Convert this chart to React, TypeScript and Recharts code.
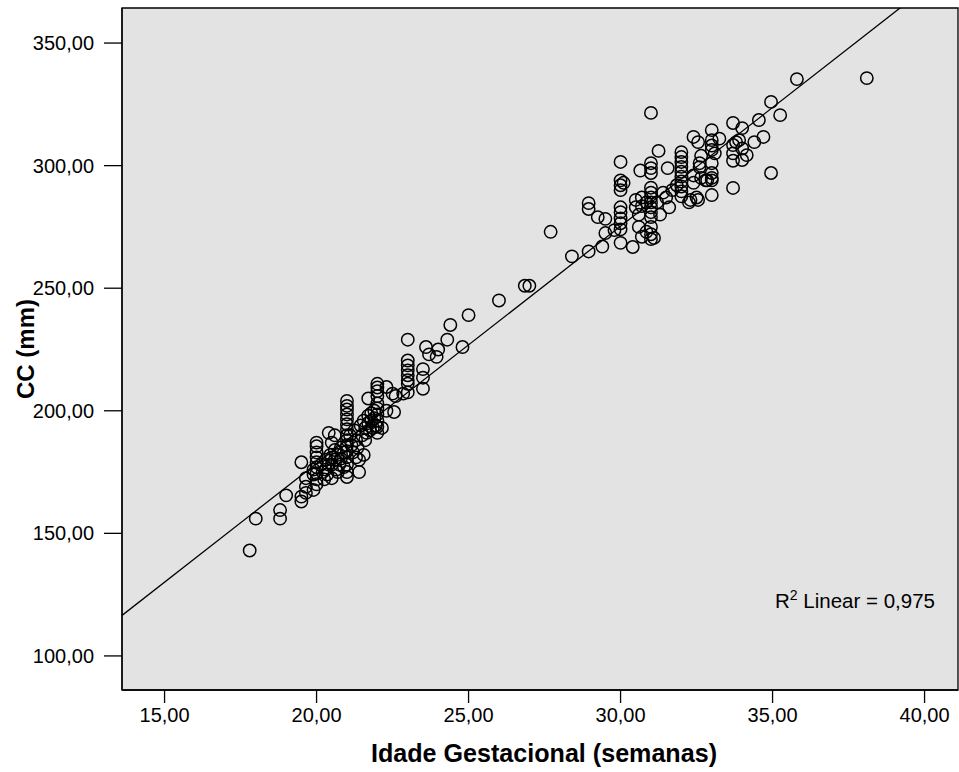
import React from "react";
import {
  CartesianGrid,
  Label,
  ReferenceArea,
  ReferenceLine,
  Scatter,
  ScatterChart,
  XAxis,
  YAxis,
} from "recharts";

// [idade gestacional (semanas), CC (mm)], grouped by week
const semanas17a19 = [
  [17.8, 143], [18.0, 156], [18.8, 156], [18.8, 159.5], [19.0, 165.5], [19.5, 163],
  [19.5, 165], [19.5, 179], [19.65, 166.5], [19.65, 169], [19.65, 172.5], [19.9, 167.7],
  [19.9, 174], [19.9, 176],
];
const semanas20 = [
  [20, 187], [20, 185.5], [20, 183], [20, 181], [20, 179], [20, 177], [20, 174.5], [20, 172],
  [20, 170], [20.15, 178], [20.2, 175], [20.25, 172], [20.3, 180], [20.3, 176], [20.35, 174],
  [20.4, 191], [20.45, 182], [20.5, 187], [20.5, 178], [20.5, 172.5], [20.6, 190], [20.6, 184],
  [20.6, 180], [20.65, 176], [20.7, 182], [20.75, 178], [20.8, 185], [20.8, 180.5], [20.9, 183],
  [20.9, 177], [20.5, 181], [20.4, 178], [20.7, 175],
];
const semanas21 = [
  [21, 204], [21, 202], [21, 200.5], [21, 198.5], [21, 196.5], [21, 194.5], [21, 192.5],
  [21, 190], [21, 188], [21, 186], [21, 183.5], [21, 181], [21, 178], [21, 175], [21, 173],
  [21.1, 190], [21.15, 186], [21.2, 183], [21.25, 192], [21.3, 188], [21.35, 185], [21.4, 180],
  [21.4, 175], [21.45, 194], [21.5, 190], [21.55, 196], [21.6, 193], [21.6, 188], [21.65, 191],
  [21.7, 205], [21.7, 198], [21.7, 195], [21.75, 192], [21.8, 199], [21.8, 196], [21.85, 193],
  [21.9, 200], [21.9, 197], [21.95, 194], [21.55, 182], [21.3, 181],
];
const semanas22 = [
  [22, 211], [22, 209.5], [22, 208], [22, 206], [22, 203], [22, 201], [22, 198.5], [22, 196],
  [22, 193.5], [22, 191], [22.15, 193], [22.3, 209.7], [22.3, 200], [22.5, 207], [22.55, 199.5],
  [22.6, 206], [22.85, 207],
];
const semanas23a28 = [
  [23, 229], [23, 220.5], [23, 218.5], [23, 216.5], [23, 214.5], [23, 212.5], [23, 211],
  [23, 207.5], [23.5, 217], [23.5, 213.5], [23.5, 209], [23.6, 226], [23.7, 223], [23.95, 222],
  [24.0, 225], [24.3, 229], [24.4, 235], [24.8, 226], [25.0, 239], [26.0, 245], [26.85, 251],
  [27.0, 251], [27.7, 273], [28.4, 263],
];
const semanas29a30 = [
  [28.95, 265], [28.95, 282.3], [28.95, 284.7], [29.25, 279], [29.4, 267], [29.5, 278.3],
  [29.5, 272.5], [29.8, 273.7], [30, 301.5], [30, 294], [30, 292], [30, 290], [30, 283],
  [30, 281], [30, 278.5], [30, 276.5], [30, 274], [30, 268.5], [30.1, 293], [30.4, 266.8],
  [30.5, 286], [30.5, 283], [30.6, 280], [30.6, 275], [30.65, 298], [30.7, 287], [30.7, 283.5],
  [30.7, 271], [30.85, 273], [30.85, 285],
];
const semanas31 = [
  [31, 321.5], [31, 301], [31, 299], [31, 297], [31, 291], [31, 289], [31, 287], [31, 285],
  [31, 283], [31, 281], [31, 279], [31, 275], [31, 272], [31, 270], [31.1, 270.5], [31.2, 285],
  [31.25, 306], [31.4, 289], [31.5, 287], [31.55, 299], [31.6, 283], [31.7, 290], [31.85, 292],
  [31.3, 280],
];
const semanas32 = [
  [32, 305.5], [32, 303.5], [32, 301.5], [32, 299.5], [32, 297.5], [32, 295.5], [32, 293.5],
  [32, 291.5], [32, 289.5], [32, 287.5], [32.25, 285], [32.3, 286], [32.4, 311.7], [32.4, 296],
  [32.4, 293], [32.5, 287], [32.55, 309.6], [32.55, 286], [32.6, 301], [32.6, 299.4],
  [32.65, 304], [32.65, 295], [32.8, 294], [32.85, 294],
];
const semanas33a38 = [
  [33, 314.5], [33, 310.4], [33, 308.2], [33, 306.4], [33, 301], [33, 297], [33, 295], [33, 294],
  [33, 288], [33.1, 305], [33.25, 311], [33.7, 317.4], [33.7, 308.4], [33.7, 305], [33.7, 302],
  [33.7, 290.9], [33.8, 309.6], [33.9, 310.4], [34, 315.3], [34, 307], [34, 302.3],
  [34.15, 304.3], [34.4, 309.6], [34.55, 318.6], [34.7, 311.7], [34.95, 326], [34.95, 297],
  [35.25, 320.6], [35.8, 335.3], [38.1, 335.7],
];

const xTicks = [15, 20, 25, 30, 35, 40];
const yTicks = [100, 150, 200, 250, 300, 350];
const X_DOMAIN = [13.6, 41.1];
const Y_DOMAIN = [86.1, 364.3];
const R2_TEXT = "0,975";

const points = [
  ...semanas17a19, ...semanas20, ...semanas21, ...semanas22, ...semanas23a28,
  ...semanas29a30, ...semanas31, ...semanas32, ...semanas33a38,
].map(([ig, cc]) => ({ ig, cc }));

// least squares fit, like SPSS "Fit line at total"
const n = points.length;
const mx = points.reduce((s, p) => s + p.ig, 0) / n;
const my = points.reduce((s, p) => s + p.cc, 0) / n;
const sxy = points.reduce((s, p) => s + (p.ig - mx) * (p.cc - my), 0);
const sxx = points.reduce((s, p) => s + (p.ig - mx) ** 2, 0);
const slope = sxy / sxx;
const intercept = my - slope * mx;
const fit = (x: number) => intercept + slope * x;

const fmt = (v: number) => v.toFixed(2).replace(".", ",");
const FONT = "'Liberation Sans', Arial, sans-serif";

const Ring = (props: any) => (
  <circle cx={props.cx} cy={props.cy} r={6.2} fill="none" stroke="#000" strokeWidth={1.5} />
);

export default function App() {
  return (
    <div style={{ position: "absolute", left: 0, top: 0, width: 959, height: 772 }}>
      <ScatterChart width={959} height={772} margin={{ top: 8, right: 1, bottom: 0, left: 0 }}>
        <CartesianGrid fill="#e3e3e3" horizontal={false} vertical={false} />
        <XAxis
          type="number"
          dataKey="ig"
          domain={X_DOMAIN}
          ticks={xTicks}
          allowDataOverflow
          tickFormatter={fmt}
          height={82}
          tickSize={13}
          tickMargin={5}
          axisLine={{ stroke: "#000", strokeWidth: 1.3 }}
          tickLine={{ stroke: "#000", strokeWidth: 1.3 }}
          tick={{ fill: "#000", fontSize: 20, fontFamily: "'Liberation Sans Narrow', " + FONT }}
        >
          <Label
            content={() => (
              <text x={544} y={753} textAnchor="middle" dominantBaseline="central"
                fontFamily={FONT} fontWeight="bold" fontSize={25} fill="#000"
                textLength={346} lengthAdjust="spacingAndGlyphs">
                Idade Gestacional (semanas)
              </text>
            )}
          />
        </XAxis>
        <YAxis
          type="number"
          dataKey="cc"
          domain={Y_DOMAIN}
          ticks={yTicks}
          allowDataOverflow
          tickFormatter={fmt}
          width={122}
          tickSize={18}
          tickMargin={10}
          axisLine={{ stroke: "#000", strokeWidth: 1.3 }}
          tickLine={{ stroke: "#000", strokeWidth: 1.3 }}
          tick={{ fill: "#000", fontSize: 20, fontFamily: FONT }}
        >
          <Label
            content={() => (
              <text x={25} y={349} transform="rotate(-90 25 349)" textAnchor="middle"
                dominantBaseline="central" fontFamily={FONT} fontWeight="bold" fontSize={24} fill="#000">
                CC (mm)
              </text>
            )}
          />
        </YAxis>
        <ReferenceArea
          x1={X_DOMAIN[0]} x2={X_DOMAIN[1]} y1={Y_DOMAIN[0]} y2={Y_DOMAIN[1]}
          fill="none" stroke="#000" strokeWidth={1.3} ifOverflow="visible"
        />
        <ReferenceLine
          segment={[
            { x: X_DOMAIN[0], y: fit(X_DOMAIN[0]) },
            { x: X_DOMAIN[1], y: fit(X_DOMAIN[1]) },
          ]}
          stroke="#000"
          strokeWidth={1.3}
          ifOverflow="hidden"
        />
        <Scatter data={points} shape={Ring} isAnimationActive={false} />
      </ScatterChart>
      <div
        style={{
          position: "absolute", left: 775, top: 587, fontFamily: FONT, fontSize: 20.5,
          color: "#000", whiteSpace: "nowrap",
        }}
      >
        R<sup style={{ fontSize: 14 }}>2</sup> Linear = {R2_TEXT}
      </div>
    </div>
  );
}
